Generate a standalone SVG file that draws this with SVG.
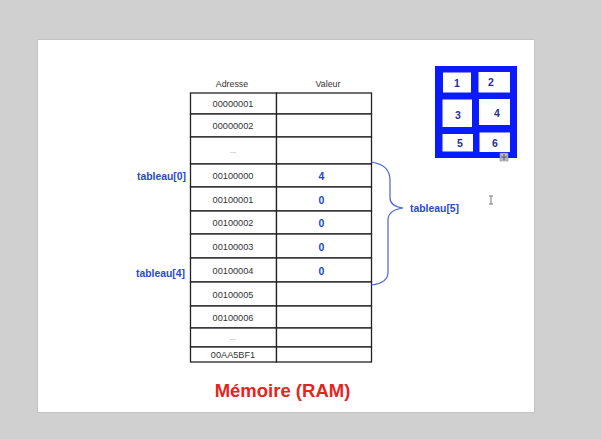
<svg xmlns="http://www.w3.org/2000/svg" width="601" height="439" viewBox="0 0 601 439">
<style>
.hdr{font-family:"Liberation Sans",Arial,sans-serif;font-size:8.8px;fill:#333;text-anchor:middle}
.addr{font-family:"Liberation Sans",Arial,sans-serif;font-size:9.2px;fill:#333;text-anchor:middle}
.dots{font-family:"Liberation Sans",Arial,sans-serif;font-size:8px;fill:#888;text-anchor:middle}
.val{font-family:"Liberation Sans",Arial,sans-serif;font-size:10.5px;font-weight:bold;fill:#2346c4;text-anchor:middle}
.lbl{font-family:"Liberation Sans",Arial,sans-serif;font-size:10.4px;font-weight:bold;fill:#2a4bc4}
.num{font-family:"Liberation Sans",Arial,sans-serif;font-size:10.5px;font-weight:bold;fill:#1f2f9a;text-anchor:middle}
.cell{fill:#fff;stroke:#222;stroke-width:1.3}
.gc{fill:#fff}
</style>
<rect x="0" y="0" width="601" height="439" fill="#d0d0d0"/>
<rect x="37.5" y="39.5" width="497" height="373" fill="#fff" stroke="#c2c2c2" stroke-width="1"/>

<g id="headers">
<text class="hdr" x="232" y="87">Adresse</text>
<text class="hdr" x="328" y="87">Valeur</text>
</g>

<g id="table">
<rect class="cell" x="190.5" y="93" width="86" height="21"/>
<rect class="cell" x="276.5" y="93" width="95" height="21"/>
<rect class="cell" x="190.5" y="114" width="86" height="23"/>
<rect class="cell" x="276.5" y="114" width="95" height="23"/>
<rect class="cell" x="190.5" y="137" width="86" height="27"/>
<rect class="cell" x="276.5" y="137" width="95" height="27"/>
<rect class="cell" x="190.5" y="164" width="86" height="23"/>
<rect class="cell" x="276.5" y="164" width="95" height="23"/>
<rect class="cell" x="190.5" y="187" width="86" height="24"/>
<rect class="cell" x="276.5" y="187" width="95" height="24"/>
<rect class="cell" x="190.5" y="211" width="86" height="23"/>
<rect class="cell" x="276.5" y="211" width="95" height="23"/>
<rect class="cell" x="190.5" y="234" width="86" height="24"/>
<rect class="cell" x="276.5" y="234" width="95" height="24"/>
<rect class="cell" x="190.5" y="258" width="86" height="24"/>
<rect class="cell" x="276.5" y="258" width="95" height="24"/>
<rect class="cell" x="190.5" y="282" width="86" height="24"/>
<rect class="cell" x="276.5" y="282" width="95" height="24"/>
<rect class="cell" x="190.5" y="306" width="86" height="22"/>
<rect class="cell" x="276.5" y="306" width="95" height="22"/>
<rect class="cell" x="190.5" y="328" width="86" height="19"/>
<rect class="cell" x="276.5" y="328" width="95" height="19"/>
<rect class="cell" x="190.5" y="347" width="86" height="15"/>
<rect class="cell" x="276.5" y="347" width="95" height="15"/>

<text class="addr" x="233" y="107">00000001</text>
<text class="addr" x="233" y="129">00000002</text>
<text class="dots" x="233" y="153">...</text>
<text class="addr" x="233" y="179">00100000</text>
<text class="addr" x="233" y="202.5">00100001</text>
<text class="addr" x="233" y="226">00100002</text>
<text class="addr" x="233" y="249.5">00100003</text>
<text class="addr" x="233" y="274">00100004</text>
<text class="addr" x="233" y="297.5">00100005</text>
<text class="addr" x="233" y="320.5">00100006</text>
<text class="dots" x="233" y="339.5">...</text>
<text class="addr" x="233" y="358">00AA5BF1</text>

<text class="val" x="321.5" y="180">4</text>
<text class="val" x="321.5" y="203.5">0</text>
<text class="val" x="321.5" y="227">0</text>
<text class="val" x="321.5" y="250.5">0</text>
<text class="val" x="321.5" y="275">0</text>
</g>

<g id="label-tableau0"><text class="lbl" x="186" y="180" text-anchor="end">tableau[0]</text></g>
<g id="label-tableau4"><text class="lbl" x="185" y="276.5" text-anchor="end">tableau[4]</text></g>

<g id="connectors">
<path d="M371.5,162 C384,164 390,170 390,180 L390,198 C390,204 396,207 403,208 C396,209 388,212 388,220 L388,272 C388,280 381,284 371.5,285" fill="none" stroke="#4a66d4" stroke-width="1.2"/>
</g>
<g id="label-tableau5"><text class="lbl" x="410" y="212">tableau[5]</text></g>

<g id="grid">
<rect x="435" y="66" width="82" height="92" fill="#0a1cff"/>
<rect class="gc" x="443" y="72.5" width="28" height="20"/>
<rect class="gc" x="478.5" y="72" width="31.5" height="20.5"/>
<rect class="gc" x="442.5" y="99.5" width="29.5" height="27.5"/>
<rect class="gc" x="479" y="99" width="31" height="26"/>
<rect class="gc" x="442.5" y="134" width="30.5" height="17.5"/>
<rect class="gc" x="479.5" y="132.5" width="30.5" height="19.5"/>
<text class="num" x="457" y="87">1</text>
<text class="num" x="491" y="86">2</text>
<text class="num" x="458" y="119">3</text>
<text class="num" x="497" y="117">4</text>
<text class="num" x="460" y="147">5</text>
<text class="num" x="495" y="147">6</text>
</g>

<g id="cursors">
<rect x="500" y="153" width="8" height="8" fill="#bbb" stroke="#888" stroke-width="0.5"/>
<path d="M504,154 V160 M501,157 H507" stroke="#444" stroke-width="0.8"/>
<path d="M489,196 H493 M491,196 V204 M489,204 H493" stroke="#555" stroke-width="0.8" fill="none"/>
</g>

<g id="title"><text x="282.5" y="397" text-anchor="middle" font-family="'Liberation Sans',Arial,sans-serif" font-size="18.5" font-weight="bold" fill="#e5251c">Mémoire (RAM)</text></g>
</svg>
